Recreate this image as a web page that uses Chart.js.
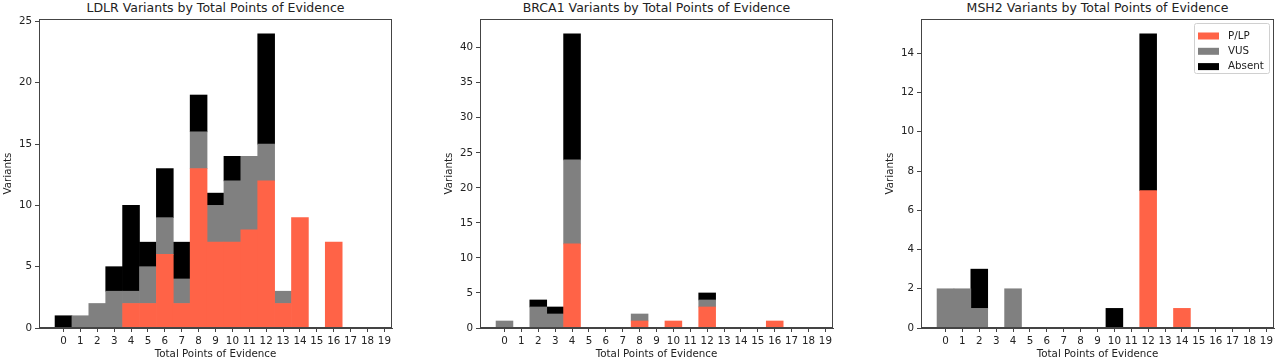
<!DOCTYPE html>
<html>
<head>
<meta charset="utf-8">
<script src="https://cdn.jsdelivr.net/npm/chart.js@4.4.0/dist/chart.umd.min.js"></script>
<style>
  html, body { margin: 0; padding: 0; background: #fff; overflow: hidden; }
  body { width: 1280px; height: 363px; position: relative; }
  canvas { position: absolute; top: 0; }
  .title {
    position: absolute; top: 0px; width: 353px; text-align: center;
    font: 12.5px "DejaVu Sans", sans-serif; color: #222; white-space: nowrap;
  }
</style>
</head>
<body>
<div class="title" id="t0">LDLR Variants by Total Points of Evidence</div>
<div class="title" id="t1">BRCA1 Variants by Total Points of Evidence</div>
<div class="title" id="t2">MSH2 Variants by Total Points of Evidence</div>
<canvas id="c0" width="397" height="363"></canvas>
<canvas id="c1" width="397" height="363"></canvas>
<canvas id="c2" width="397" height="363"></canvas>
<script>
// points of evidence (x categories)
const xTicks = [0, 1, 2, 3, 4, 5, 6, 7, 8, 9, 10, 11, 12, 13, 14, 15, 16, 17, 18, 19];
const seriesNames = ["P/LP", "VUS", "Absent"];
const seriesColors = ["#ff6347", "#808080", "#000000"];

// LDLR
const ldlrPLP    = [0, 0, 0, 0, 2, 2, 6, 2, 13, 7, 7, 8, 12, 2, 9, 0, 7, 0, 0, 0];
const ldlrVUS    = [0, 1, 2, 3, 1, 3, 3, 2, 3, 3, 5, 6, 3, 1, 0, 0, 0, 0, 0, 0];
const ldlrAbsent = [1, 0, 0, 2, 7, 2, 4, 3, 3, 1, 2, 0, 9, 0, 0, 0, 0, 0, 0, 0];
const ldlrYTicks = [0, 5, 10, 15, 20, 25];

// BRCA1
const brcaPLP    = [0, 0, 0, 0, 12, 0, 0, 0, 1, 0, 1, 0, 3, 0, 0, 0, 1, 0, 0, 0];
const brcaVUS    = [1, 0, 3, 2, 12, 0, 0, 0, 1, 0, 0, 0, 1, 0, 0, 0, 0, 0, 0, 0];
const brcaAbsent = [0, 0, 1, 1, 18, 0, 0, 0, 0, 0, 0, 0, 1, 0, 0, 0, 0, 0, 0, 0];
const brcaYTicks = [0, 5, 10, 15, 20, 25, 30, 35, 40];

// MSH2
const msh2PLP    = [0, 0, 0, 0, 0, 0, 0, 0, 0, 0, 0, 0, 7, 0, 1, 0, 0, 0, 0, 0];
const msh2VUS    = [2, 2, 1, 0, 2, 0, 0, 0, 0, 0, 0, 0, 0, 0, 0, 0, 0, 0, 0, 0];
const msh2Absent = [0, 0, 2, 0, 0, 0, 0, 0, 0, 0, 1, 0, 8, 0, 0, 0, 0, 0, 0, 0];
const msh2YTicks = [0, 2, 4, 6, 8, 10, 12, 14];

const FONT = "'DejaVu Sans', sans-serif";
const FS = 10.3;
const TEXT = "#222";
const AXIS = "#444";
const plotLefts = [39, 480, 921];

// spines on all four sides, like matplotlib
const frame = {
  id: "frame",
  afterDatasetsDraw(chart) {
    const { ctx, chartArea: a } = chart;
    ctx.save();
    ctx.strokeStyle = AXIS;
    ctx.lineWidth = 1;
    ctx.strokeRect(a.left + 0.5, a.top + 0.5, a.right - a.left - 1, a.bottom - a.top - 1);
    ctx.restore();
  }
};

// legend box in the upper right of the plot
const innerLegend = {
  id: "innerLegend",
  afterDraw(chart) {
    const { ctx, chartArea: a } = chart;
    const w = 75, h = 50;
    const x = a.right - w - 5, y = a.top + 4;
    ctx.save();
    ctx.fillStyle = "rgba(255,255,255,0.8)";
    ctx.strokeStyle = "#d0d0d0";
    ctx.lineWidth = 1;
    ctx.beginPath();
    ctx.roundRect(x + 0.5, y + 0.5, w, h, 2);
    ctx.fill();
    ctx.stroke();
    ctx.font = FS + "px " + FONT;
    ctx.textBaseline = "middle";
    chart.data.datasets.forEach((ds, i) => {
      const cy = y + 13 + i * 15.3;
      ctx.fillStyle = ds.backgroundColor;
      ctx.fillRect(x + 4, cy - 3.5, 21, 7);
      ctx.fillStyle = TEXT;
      ctx.fillText(ds.label, x + 34, cy);
    });
    ctx.restore();
  }
};

function makeChart(idx, series, yTicks, yMax, withLegend) {
  const canvas = document.getElementById("c" + idx);
  canvas.style.left = (plotLefts[idx] - 40) + "px";
  document.getElementById("t" + idx).style.left = plotLefts[idx] + "px";

  const datasets = series.map((vals, i) => ({
    label: seriesNames[i],
    data: vals.map((v, j) => ({ x: xTicks[j], y: v === 0 ? null : v })),
    backgroundColor: seriesColors[i],
    borderWidth: 0,
    barPercentage: 1,
    categoryPercentage: 1
  }));

  new Chart(canvas, {
    type: "bar",
    data: { datasets },
    options: {
      responsive: false,
      animation: false,
      events: [],
      layout: { padding: { top: 19, right: 4, left: 0, bottom: 0 } },
      plugins: { legend: { display: false }, tooltip: { enabled: false } },
      scales: {
        x: {
          type: "linear",
          stacked: true,
          offset: false,
          min: -1.45,
          max: 19.45,
          afterBuildTicks: (s) => { s.ticks = xTicks.map((v) => ({ value: v })); },
          afterFit: (s) => { s.height = 35; },
          grid: { display: true, offset: false, drawOnChartArea: false, drawTicks: true, tickLength: 4, color: AXIS },
          border: { display: true, color: AXIS },
          ticks: { autoSkip: false, maxRotation: 0, padding: 3.5, color: TEXT, font: { family: FONT, size: FS } },
          title: { display: true, text: "Total Points of Evidence", color: TEXT, font: { family: FONT, size: FS }, padding: { top: 0, bottom: 2.5 } }
        },
        y: {
          stacked: true,
          min: 0,
          max: yMax,
          afterBuildTicks: (s) => { s.ticks = yTicks.map((v) => ({ value: v })); },
          afterFit: (s) => { s.width = 40; },
          grid: { display: true, drawOnChartArea: false, drawTicks: true, tickLength: 4, color: AXIS },
          border: { display: true, color: AXIS },
          ticks: { padding: 3, color: TEXT, font: { family: FONT, size: FS } },
          title: { display: true, text: "Variants", color: TEXT, font: { family: FONT, size: FS }, padding: { top: 3, bottom: 0 } }
        }
      }
    },
    plugins: withLegend ? [frame, innerLegend] : [frame]
  });
}

makeChart(0, [ldlrPLP, ldlrVUS, ldlrAbsent], ldlrYTicks, 25.2, false);
makeChart(1, [brcaPLP, brcaVUS, brcaAbsent], brcaYTicks, 44.1, false);
makeChart(2, [msh2PLP, msh2VUS, msh2Absent], msh2YTicks, 15.75, true);
</script>
</body>
</html>
